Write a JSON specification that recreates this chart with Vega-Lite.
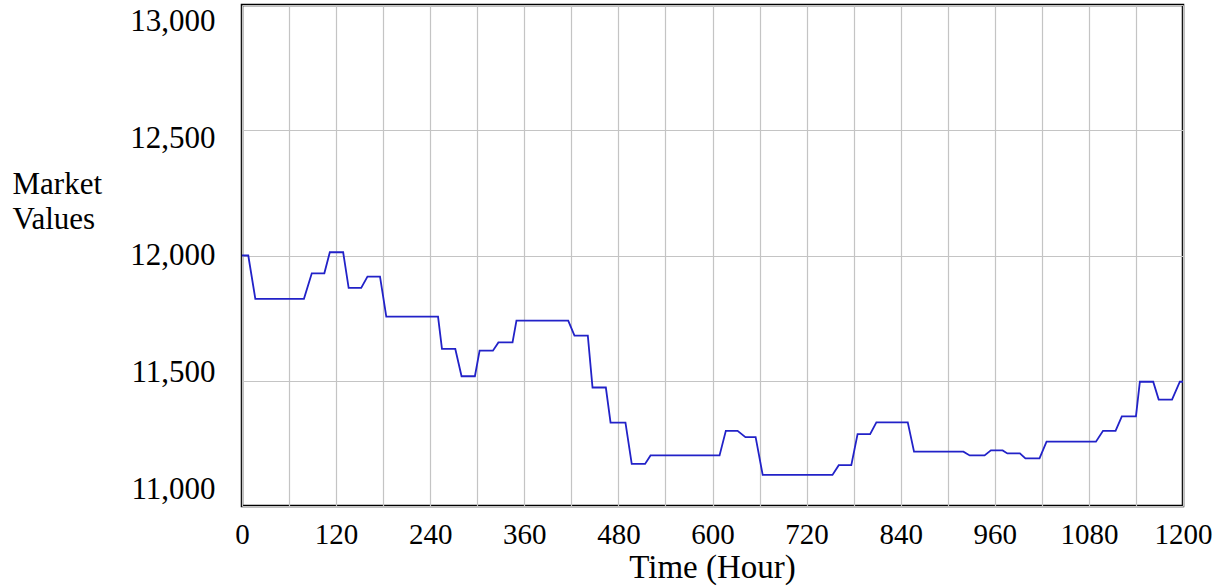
{
  "$schema": "https://vega.github.io/schema/vega-lite/v6.json",
  "autosize": "none",
  "width": 941,
  "height": 501,
  "padding": {"left": 242, "top": 5, "right": 42, "bottom": 80},
  "background": "white",
  "config": {
    "view": {"stroke": "black", "strokeWidth": 2.5},
    "font": "Liberation Serif"
  },
  "data": {
    "values": [
      {"t": 0, "v": 12000}, {"t": 8, "v": 12000}, {"t": 17, "v": 11827}, {"t": 79, "v": 11827},
      {"t": 89, "v": 11929}, {"t": 105, "v": 11929}, {"t": 112, "v": 12013}, {"t": 129, "v": 12013},
      {"t": 136, "v": 11871}, {"t": 152, "v": 11871}, {"t": 160, "v": 11916}, {"t": 176, "v": 11916},
      {"t": 184, "v": 11756}, {"t": 250, "v": 11756}, {"t": 255, "v": 11627}, {"t": 272, "v": 11627},
      {"t": 280, "v": 11518}, {"t": 297, "v": 11518}, {"t": 303, "v": 11620}, {"t": 320, "v": 11620},
      {"t": 327, "v": 11653}, {"t": 345, "v": 11653}, {"t": 350, "v": 11740}, {"t": 416, "v": 11740},
      {"t": 424, "v": 11680}, {"t": 441, "v": 11680}, {"t": 447, "v": 11473}, {"t": 464, "v": 11473},
      {"t": 470, "v": 11333}, {"t": 489, "v": 11333}, {"t": 497, "v": 11168}, {"t": 514, "v": 11168},
      {"t": 521, "v": 11202}, {"t": 609, "v": 11202}, {"t": 617, "v": 11300}, {"t": 632, "v": 11300},
      {"t": 642, "v": 11275}, {"t": 655, "v": 11275}, {"t": 664, "v": 11124}, {"t": 753, "v": 11124},
      {"t": 761, "v": 11163}, {"t": 777, "v": 11163}, {"t": 785, "v": 11287}, {"t": 801, "v": 11287},
      {"t": 809, "v": 11334}, {"t": 849, "v": 11334}, {"t": 857, "v": 11217}, {"t": 920, "v": 11217},
      {"t": 928, "v": 11202}, {"t": 947, "v": 11202}, {"t": 955, "v": 11222}, {"t": 970, "v": 11222},
      {"t": 976, "v": 11210}, {"t": 992, "v": 11210}, {"t": 999, "v": 11190}, {"t": 1017, "v": 11190},
      {"t": 1026, "v": 11257}, {"t": 1089, "v": 11257}, {"t": 1098, "v": 11300}, {"t": 1114, "v": 11300},
      {"t": 1122, "v": 11358}, {"t": 1140, "v": 11358}, {"t": 1145, "v": 11496}, {"t": 1162, "v": 11496},
      {"t": 1169, "v": 11425}, {"t": 1186, "v": 11425}, {"t": 1196, "v": 11496}, {"t": 1200, "v": 11496}
    ]
  },
  "mark": {"type": "line", "color": "#2222c8", "strokeWidth": 1.8, "interpolate": "linear"},
  "encoding": {
    "x": {
      "field": "t",
      "type": "quantitative",
      "scale": {"domain": [0, 1200], "nice": false, "zero": false},
      "axis": {
        "values": [0, 60, 120, 180, 240, 300, 360, 420, 480, 540, 600, 660, 720, 780, 840, 900, 960, 1020, 1080, 1140, 1200],
        "labelExpr": "datum.value % 120 == 0 ? datum.label : ''",
        "format": "d",
        "grid": true,
        "gridColor": "#c4c4c4",
        "gridWidth": 1.2,
        "ticks": false,
        "domain": false,
        "labelFont": "Liberation Serif",
        "labelFontSize": 29,
        "labelColor": "black",
        "labelPadding": 14,
        "labelFlush": false,
        "labelOverlap": false,
        "title": "Time (Hour)",
        "titleFont": "Liberation Serif",
        "titleFontSize": 33,
        "titleFontWeight": "normal",
        "titleColor": "black",
        "titleBaseline": "alphabetic",
        "titleX": 470,
        "titleY": 71
      }
    },
    "y": {
      "field": "v",
      "type": "quantitative",
      "scale": {"domain": [11000, 13000], "nice": false, "zero": false},
      "axis": {
        "values": [11000, 11500, 12000, 12500, 13000],
        "format": ",d",
        "grid": true,
        "gridColor": "#c4c4c4",
        "gridWidth": 1.2,
        "ticks": false,
        "domain": false,
        "labelFont": "Liberation Serif",
        "labelFontSize": 31,
        "labelColor": "black",
        "labelPadding": 27,
        "labelOffset": {"expr": "(datum.value - 12000) * 0.0165"},
        "title": ["Market", "Values"],
        "titleFont": "Liberation Serif",
        "titleFontSize": 31,
        "titleFontWeight": "normal",
        "titleColor": "black",
        "titleAngle": 0,
        "titleAlign": "left",
        "titleBaseline": "alphabetic",
        "titleLineHeight": 35,
        "titleX": -230,
        "titleY": 188
      }
    }
  }
}
